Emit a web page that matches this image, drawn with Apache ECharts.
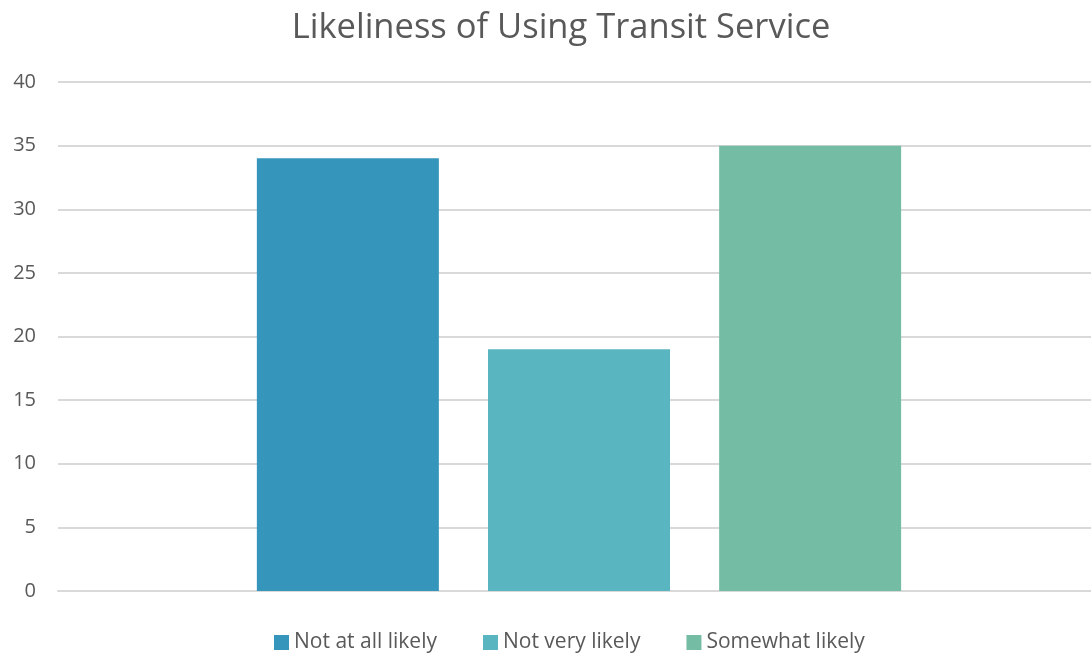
<!DOCTYPE html>
<html><head><meta charset="utf-8">
<script src="https://cdn.jsdelivr.net/npm/echarts@6/dist/echarts.min.js"></script>
<style>html,body{margin:0;padding:0;background:#fff}#c{width:1091px;height:655px}</style>
</head><body><div id="c"></div>
<script>
const categories = [''];
const seriesNames = ['Not at all likely', 'Not very likely', 'Somewhat likely'];
const notAtAll = [34];
const notVery = [19];
const somewhat = [35];
const colors = ['#3595BA', '#59B5C0', '#75BCA5'];
const values = [notAtAll, notVery, somewhat];

const chart = echarts.init(document.getElementById('c'));
chart.setOption({
  animation: false,
  title: {
    text: 'Likeliness of Using Transit Service',
    left: 556, top: 6, textAlign: 'center',
    textStyle: {fontFamily: 'Open Sans', fontSize: 34.5, fontWeight: 'normal', color: '#595959'}
  },
  legend: {
    top: 627, left: 269, itemWidth: 15, itemHeight: 15, itemGap: 46,
    icon: 'rect',
    textStyle: {fontFamily: 'Open Sans', fontSize: 21, color: '#595959'},
    data: seriesNames
  },
  grid: {left: 58, width: 1042, top: 82, height: 509, outerBoundsMode: 'none', containLabel: false},
  xAxis: {
    type: 'category', data: categories,
    axisLine: {show: true, lineStyle: {color: '#D9D9D9', width: 2}},
    axisTick: {show: false}, axisLabel: {show: false}
  },
  yAxis: {
    type: 'value', min: 0, max: 40, interval: 5,
    axisLine: {show: false}, axisTick: {show: false},
    axisLabel: {fontFamily: 'Open Sans', fontSize: 20, color: '#595959', margin: 22},
    splitLine: {lineStyle: {color: '#D9D9D9', width: 2}}
  },
  series: seriesNames.map((n, i) => ({
    name: n, type: 'bar', data: values[i], barWidth: 182, barGap: '27%',
    itemStyle: {color: colors[i]}
  }))
});
</script></body></html>
